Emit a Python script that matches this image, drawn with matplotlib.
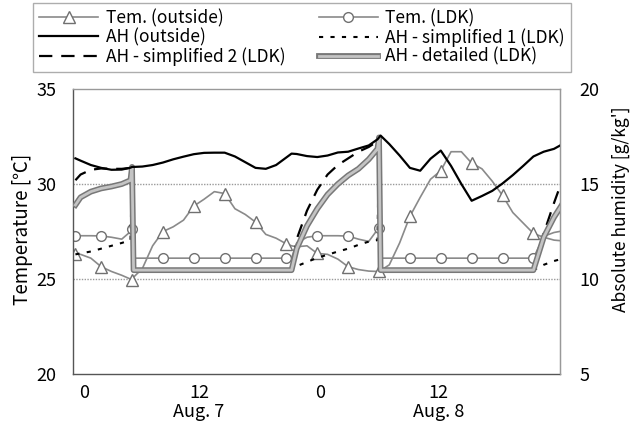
import matplotlib
matplotlib.use('Agg')
import matplotlib.pyplot as plt
import matplotlib.patheffects as pe

plt.rcParams['font.family'] = ['Noto Sans CJK JP', 'DejaVu Sans']

# hours from the start of the record (extra points around the window opening / cooling switches)
hours = [0.5, 1, 2, 3, 4, 5, 5.85, 6,
         6.15, 7, 8, 9, 10, 11, 12, 13, 14, 15, 16, 17, 18, 19, 20, 21,
         21.5, 22, 23, 24, 25, 26, 27, 28, 29, 29.85, 30,
         30.15, 31, 32, 33, 34, 35, 36, 37, 38, 39, 40, 41, 42, 43, 44, 45, 46, 47, 48]

# temperature [C]
tem_outside = [26.3, 26.3, 26.1, 25.65, 25.4, 25.2, 25.0, 24.95,
               25.1, 25.55, 26.75, 27.5, 27.75, 28.1, 28.84, 29.2, 29.6, 29.5, 28.7, 28.4, 28.0, 27.35, 27.15, 26.85,
               26.75, 26.7, 26.75, 26.35, 26.3, 26.05, 25.65, 25.5, 25.42, 25.4, 25.4,
               25.45, 25.75, 26.9, 28.3, 29.3, 30.25, 30.7, 31.7, 31.7, 31.1, 30.8, 30.15, 29.4, 28.5, 27.95, 27.4,
               27.2, 27.05, 27.0]
tem_ldk = [27.28, 27.28, 27.28, 27.27, 27.2, 27.1, 27.5, 27.62,
           26.1, 26.1, 26.1, 26.1, 26.1, 26.1, 26.1, 26.1, 26.1, 26.1, 26.1, 26.1, 26.1, 26.1, 26.1, 26.1,
           26.1, 26.9, 27.2, 27.28, 27.28, 27.28, 27.26, 27.1, 26.98, 27.6, 27.7,
           26.1, 26.1, 26.1, 26.1, 26.1, 26.1, 26.1, 26.1, 26.1, 26.1, 26.1, 26.1, 26.1, 26.1, 26.1, 26.1,
           27.25, 27.45, 27.55]

# absolute humidity [g/kg']
ah_outside = [16.35, 16.23, 16.0, 15.85, 15.75, 15.76, 15.86, 15.9,
              15.9, 15.92, 16.0, 16.13, 16.3, 16.44, 16.57, 16.64, 16.65, 16.65, 16.45, 16.15, 15.85, 15.8, 16.0, 16.4,
              16.6, 16.58, 16.47, 16.42, 16.5, 16.66, 16.7, 16.87, 17.03, 17.35, 17.45,
              17.55, 17.1, 16.5, 15.85, 15.7, 16.33, 16.76, 15.95, 15.0, 14.12, 14.37, 14.64, 15.03, 15.47, 15.95, 16.45,
              16.7, 16.85, 17.15]
ah_simple1 = [11.3, 11.35, 11.45, 11.6, 11.75, 11.9, 12.05, 15.9,
              10.47, 10.47, 10.47, 10.47, 10.47, 10.47, 10.47, 10.47, 10.47, 10.47, 10.47, 10.47, 10.47, 10.47, 10.47, 10.47,
              10.47, 10.68, 10.9, 11.12, 11.28, 11.45, 11.6, 11.8, 11.97, 12.05, 17.45,
              10.47, 10.47, 10.47, 10.47, 10.47, 10.47, 10.47, 10.47, 10.47, 10.47, 10.47, 10.47, 10.47, 10.47, 10.47, 10.47,
              10.75, 10.95, 11.1]
ah_simple2 = [15.2, 15.5, 15.75, 15.82, 15.8, 15.8, 15.85, 15.9,
              10.47, 10.47, 10.47, 10.47, 10.47, 10.47, 10.47, 10.47, 10.47, 10.47, 10.47, 10.47, 10.47, 10.47, 10.47, 10.47,
              10.47, 12.1, 13.6, 14.7, 15.5, 16.0, 16.35, 16.7, 16.95, 17.25, 17.45,
              10.47, 10.47, 10.47, 10.47, 10.47, 10.47, 10.47, 10.47, 10.47, 10.47, 10.47, 10.47, 10.47, 10.47, 10.47, 10.47,
              12.4, 14.0, 15.5]
ah_detailed = [13.9, 14.3, 14.6, 14.77, 14.87, 15.0, 15.2, 15.9,
               10.47, 10.47, 10.47, 10.47, 10.47, 10.47, 10.47, 10.47, 10.47, 10.47, 10.47, 10.47, 10.47, 10.47, 10.47, 10.47,
               10.47, 11.6, 12.8, 13.7, 14.45, 15.0, 15.45, 15.8, 16.3, 16.85, 17.45,
               10.47, 10.47, 10.47, 10.47, 10.47, 10.47, 10.47, 10.47, 10.47, 10.47, 10.47, 10.47, 10.47, 10.47, 10.47, 10.47,
               12.2, 13.25, 14.1]

# x tick labels (clock hour, with the date under the noon label)
tick_pos = [1.35, 12.5, 24.3, 35.8]
tick_labels = ['0', '12\nAug. 7', '0', '12\nAug. 8']
day_tick = [24.3]


def main():
    fig = plt.figure(figsize=(6.38, 4.32), dpi=100)
    ax = fig.add_axes([0.115, 0.134, 0.763, 0.66])
    ax2 = ax.twinx()

    # markers every 3 hours (plus the first record)
    marks = [i for i, h in enumerate(hours) if h == 0.5 or (h % 3 == 0 and h <= 45)]

    gray = '#8a8a8a'
    l_to, = ax.plot(hours, tem_outside, color=gray, lw=1.2, marker='^', markevery=marks,
                    markersize=8.5, markerfacecolor='white', markeredgecolor='#707070', markeredgewidth=1.0,
                    label='Tem. (outside)')
    l_tl, = ax.plot(hours, tem_ldk, color=gray, lw=1.2, marker='o', markevery=marks,
                    markersize=7, markerfacecolor='white', markeredgecolor='#707070', markeredgewidth=1.0,
                    label='Tem. (LDK)')

    l_s1, = ax2.plot(hours, ah_simple1, color='black', lw=1.5, linestyle=(0, (2, 3.5)),
                     label='AH - simplified 1 (LDK)')
    l_s2, = ax2.plot(hours, ah_simple2, color='black', lw=1.6, linestyle=(0, (6, 4)),
                     label='AH - simplified 2 (LDK)')
    l_det, = ax2.plot(hours, ah_detailed, color='#c4c4c4', lw=2.0,
                      path_effects=[pe.Stroke(linewidth=4.2, foreground='#787878'), pe.Normal()],
                      label='AH - detailed (LDK)')
    l_ao, = ax2.plot(hours, ah_outside, color='black', lw=1.6, label='AH (outside)')

    ax.set_xlim(0.3, 47.6)
    ax.set_ylim(20, 35)
    ax2.set_ylim(5, 20)
    ax.set_yticks([20, 25, 30, 35])
    ax2.set_yticks([5, 10, 15, 20])

    # dotted grid at the inner levels only
    for v in [25, 30]:
        ax.axhline(v, color='#9a9a9a', lw=1.0, linestyle=(0, (1, 1)), zorder=0)

    ax.set_xticks(tick_pos)
    ax.set_xticklabels(tick_labels, fontsize=13, linespacing=1.05)
    ax.set_xticks(day_tick, minor=True)
    ax.tick_params(axis='x', which='major', length=0, pad=7)
    ax.tick_params(axis='x', which='minor', direction='in', length=4, color='#555555')
    ax.tick_params(axis='y', length=0, pad=12, labelsize=13)
    ax2.tick_params(axis='y', length=0, pad=14, labelsize=13)

    for side, sp in ax.spines.items():
        sp.set_color('#555555' if side in ('left', 'bottom') else '#999999')
        sp.set_linewidth(1.0)
    for sp in ax2.spines.values():
        sp.set_visible(False)
    ax2.spines['right'].set_visible(True)
    ax2.spines['right'].set_color('#999999')

    ax.set_ylabel('Temperature [℃]', fontsize=13.5)
    ax.yaxis.set_label_coords(-0.083, 0.509)
    ax2.set_ylabel("Absolute humidity [g/kg']", fontsize=12.5)
    ax2.yaxis.set_label_coords(1.105, 0.579)

    # legend is filled column by column
    handles = [l_to, l_ao, l_s2, l_tl, l_s1, l_det]
    fig.legend(handles, [h.get_label() for h in handles], ncol=2, loc='upper left',
               bbox_to_anchor=(33 / 638, 1 - 3 / 432), fontsize=12.5, frameon=True, fancybox=False,
               edgecolor='#999999', handlelength=3.4, handletextpad=0.45, columnspacing=1.9,
               borderpad=0.35, labelspacing=0.05, borderaxespad=0)

    fig.savefig('out.png', dpi=100)


if __name__ == '__main__':
    main()
